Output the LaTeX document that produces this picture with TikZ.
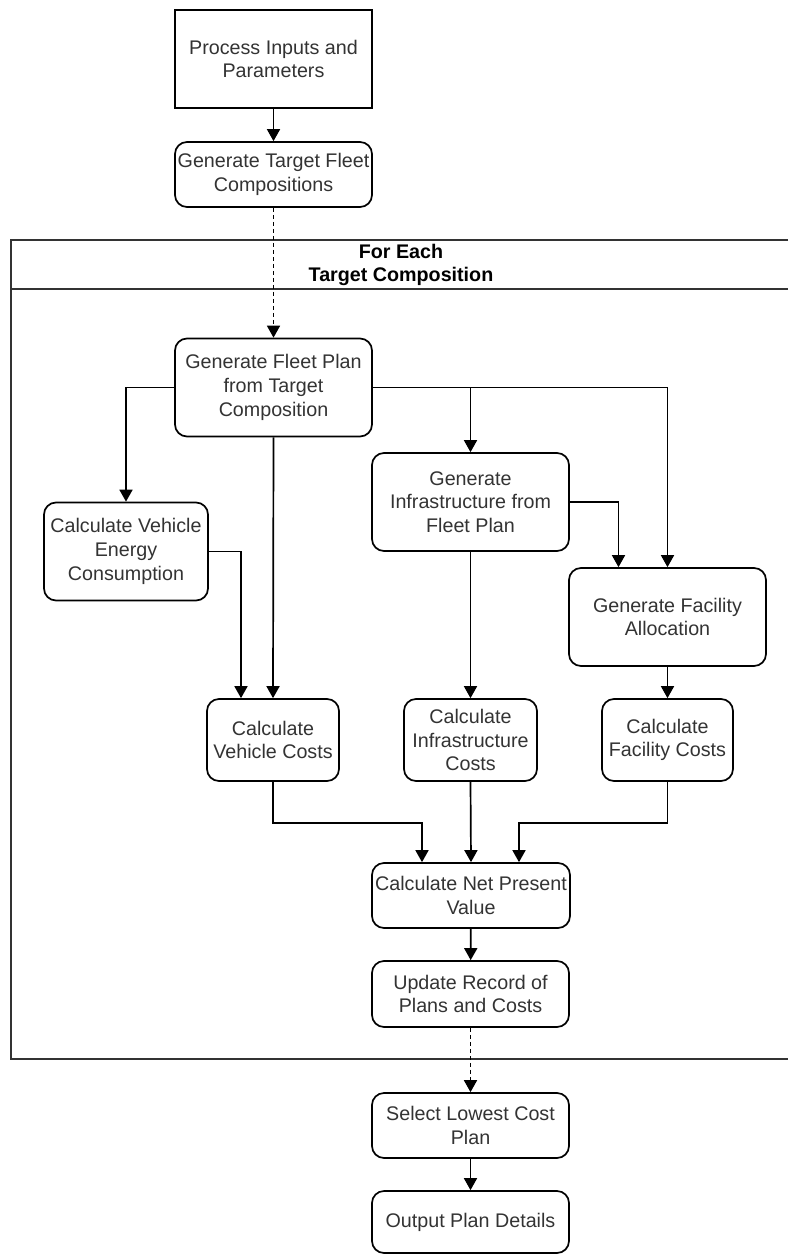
\documentclass[tikz,border=0pt]{standalone}
\usepackage{fontspec}
\setmainfont{Liberation Sans}
\usepackage{tikz}
\usetikzlibrary{arrows.meta,positioning,calc}

\begin{document}
\begin{tikzpicture}[x=1pt, y=-1pt,
    every node/.style={font=\fontsize{19.7}{23.6}\selectfont, text=black!80, align=center, inner sep=0pt},
    box/.style={draw, line width=1.7pt, minimum width=197pt, minimum height=98pt},
    stepbox/.style={box, rounded corners=12pt},
    arr/.style={-{Triangle[length=12pt,width=13pt]}, line width=1.7pt},
    dashline/.style={dash pattern=on 4pt off 3pt},
    loopline/.style={line width=1.7pt, draw=black!80}]
    \useasboundingbox (0,0) rectangle (788,1255);

    % loop container
    \draw[loopline] (788,240) -- (11,240) -- (11,1059) -- (788,1059);
    \draw[loopline] (11,289) -- (788,289);
    \node[font=\fontsize{19.7}{23.6}\selectfont\bfseries, text=black] (loop) at (401,265) {For Each\\Target Composition};

    % steps
    \node[box] (inputs) at (273.5,59) {Process Inputs and\\Parameters};
    \node[stepbox, minimum height=65pt] (target) at (273.5,174.5) {Generate Target Fleet\\Compositions};
    \node[stepbox] (fleet) at (273.5,387.5) {Generate Fleet Plan\\from Target\\Composition};
    \node[stepbox, minimum width=164pt] (energy) at (126,551.5) {Calculate Vehicle\\Energy\\Consumption};
    \node[stepbox] (infra) at (470.5,502) {Generate\\Infrastructure from\\Fleet Plan};
    \node[stepbox] (alloc) at (667.5,617) {Generate Facility\\Allocation};
    \node[stepbox, minimum width=132pt, minimum height=82pt] (vcost) at (273,740) {Calculate\\Vehicle Costs};
    \node[stepbox, minimum width=133pt, minimum height=82pt] (icost) at (470.5,740) {Calculate\\Infrastructure\\Costs};
    \node[stepbox, minimum width=131pt, minimum height=82pt] (fcost) at (667.5,740) {Calculate\\Facility Costs};
    \node[stepbox, minimum width=198pt, minimum height=65pt] (npv) at (471,895.5) {Calculate Net Present\\Value};
    \node[stepbox, minimum height=66pt] (update) at (470.5,994) {Update Record of\\Plans and Costs};
    \node[stepbox, minimum height=65pt] (select) at (470.5,1125.5) {Select Lowest Cost\\Plan};
    \node[stepbox, minimum height=62pt] (output) at (470.5,1222) {Output Plan Details};

    % connectors
    \draw[arr] (inputs) -- (target);
    \draw[arr, dashline] (target) -- (fleet);
    \draw[arr] (fleet.west) -| (energy.north);
    \draw[arr] (fleet.south) -- (vcost.north);
    \draw[arr] (fleet.east) -| (infra.north);
    \draw[arr] (fleet.east) -| (alloc.north);
    \draw[arr] (energy.east) -| ([xshift=-32pt]vcost.north);
    \draw[arr] (infra.east) -| ([xshift=-49pt]alloc.north);
    \draw[arr] (infra.south) -- (icost.north);
    \draw[arr] (alloc.south) -- (fcost.north);
    \draw[arr] (vcost.south) -- ++(0,41) -| ([xshift=-49pt]npv.north);
    \draw[arr] (icost.south) -- (npv.north);
    \draw[arr] (fcost.south) -- ++(0,41) -| ([xshift=48pt]npv.north);
    \draw[arr] (npv) -- (update);
    \draw[arr, dashline] (update) -- (select);
    \draw[arr] (select) -- (output);
\end{tikzpicture}
\end{document}
